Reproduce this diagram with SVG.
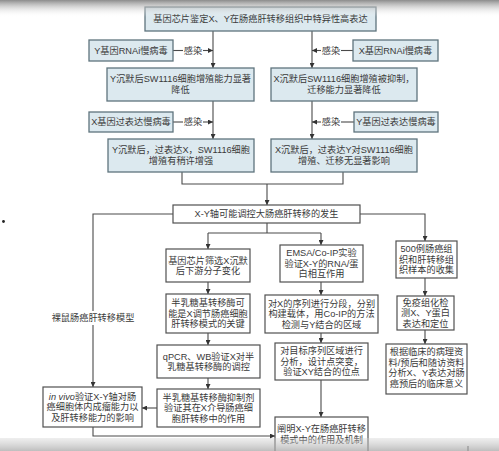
<svg xmlns="http://www.w3.org/2000/svg" width="499" height="451" viewBox="0 0 499 451">
<defs>
<style>
text{font-family:"Liberation Sans","Noto Sans CJK SC",sans-serif;font-size:9.2px;fill:#3a3a3a;text-anchor:middle}
.tb{fill:#dce9ef;stroke:#5f747d;stroke-width:1.3}
.lb{fill:#ffffff;stroke:#505050;stroke-width:1.2}
.tl{fill:none;stroke:#4a4a4a;stroke-width:1.1}
.ll{fill:none;stroke:#4a4a4a;stroke-width:1.1}
</style>
<marker id="ah" viewBox="0 0 6 6" refX="6" refY="3" markerWidth="5" markerHeight="5" markerUnits="userSpaceOnUse" orient="auto">
<path d="M0,0 L6,3 L0,6 z" fill="#333"/>
</marker>
<linearGradient id="gt" x1="0" y1="0" x2="0" y2="1">
<stop offset="0" stop-color="#8c8c8c" stop-opacity="1"/>
<stop offset="1" stop-color="#ffffff" stop-opacity="0"/>
</linearGradient>
<linearGradient id="gb" x1="0" y1="0" x2="0" y2="1">
<stop offset="0" stop-color="#cfcfcf" stop-opacity="0.35"/>
<stop offset="1" stop-color="#a8a8a8" stop-opacity="0.75"/>
</linearGradient>
</defs>
<rect x="0" y="0" width="499" height="451" fill="#ffffff"/>

<g id="connectors">
<path class="tl" d="M213,31 V68" marker-end="url(#ah)"/>
<path class="tl" d="M173,50.5 H183"/>
<path class="tl" d="M203,50.5 H213" marker-end="url(#ah)"/>
<path class="tl" d="M312,31 V68" marker-end="url(#ah)"/>
<path class="tl" d="M353,50.5 H341"/>
<path class="tl" d="M321,50.5 H312" marker-end="url(#ah)"/>
<path class="tl" d="M213,101 V139" marker-end="url(#ah)"/>
<path class="tl" d="M173,122 H183"/>
<path class="tl" d="M203,122 H213" marker-end="url(#ah)"/>
<path class="tl" d="M312,101 V139" marker-end="url(#ah)"/>
<path class="tl" d="M354,122 H341"/>
<path class="tl" d="M321,122 H312" marker-end="url(#ah)"/>
<path class="ll" d="M182,172 V184 H343 V172"/>
<path class="ll" d="M267,184 V205" marker-end="url(#ah)"/>
<path class="ll" d="M173,214 H93 V387" marker-end="url(#ah)"/>
<path class="ll" d="M360,214 H425 V241" marker-end="url(#ah)"/>
<path class="ll" d="M267,223 V233"/>
<path class="ll" d="M208,233 H321"/>
<path class="ll" d="M208,233 V249" marker-end="url(#ah)"/>
<path class="ll" d="M321,233 V245" marker-end="url(#ah)"/>
<path class="ll" d="M208,282 V294" marker-end="url(#ah)"/>
<path class="ll" d="M208,333 V345" marker-end="url(#ah)"/>
<path class="ll" d="M208,378 V389" marker-end="url(#ah)"/>
<path class="ll" d="M157,408 H142" marker-end="url(#ah)"/>
<path class="ll" d="M93,427 V436 H275" marker-end="url(#ah)"/>
<path class="ll" d="M321,282 V295" marker-end="url(#ah)"/>
<path class="ll" d="M321,333 V343" marker-end="url(#ah)"/>
<path class="ll" d="M321,380 V417" marker-end="url(#ah)"/>
<path class="ll" d="M425,278 V296" marker-end="url(#ah)"/>
<path class="ll" d="M425,330 V344" marker-end="url(#ah)"/>
<path class="ll" d="M468,446 V451"/>
<text x="193" y="53.8">感染</text>
<text x="331" y="53.8">感染</text>
<text x="193" y="125.3">感染</text>
<text x="331" y="125.3">感染</text>
<rect x="52" y="311" width="82" height="14" fill="#ffffff"/>
<text x="93" y="321.3">裸鼠肠癌肝转移模型</text>
</g>

<g id="n_top"><rect class="tb" x="145" y="7" width="231" height="24"/><text x="260.5" y="22.3">基因芯片鉴定X、Y在肠癌肝转移组织中特异性高表达</text></g>
<g id="n_yrnai"><rect class="tb" x="89" y="40" width="84" height="21"/><text x="131" y="53.8">Y基因RNAi慢病毒</text></g>
<g id="n_xrnai"><rect class="tb" x="353" y="40" width="85" height="21"/><text x="395.5" y="53.8">X基因RNAi慢病毒</text></g>
<g id="n_ysil"><rect class="tb" x="107" y="68" width="147" height="33"/><text x="180.5" y="82.3">Y沉默后SW1116细胞增殖能力显著</text><text x="180.5" y="93.3">降低</text></g>
<g id="n_xsil"><rect class="tb" x="271" y="68" width="146" height="33"/><text x="344" y="82.3">X沉默后SW1116细胞增殖被抑制，</text><text x="344" y="93.3">迁移能力显著降低</text></g>
<g id="n_xover"><rect class="tb" x="89" y="112" width="84" height="20"/><text x="131" y="125.3">X基因过表达慢病毒</text></g>
<g id="n_yover"><rect class="tb" x="354" y="112" width="84" height="20"/><text x="396" y="125.3">Y基因过表达慢病毒</text></g>
<g id="n_ysilx"><rect class="tb" x="108" y="139" width="146" height="33"/><text x="181" y="153.3">Y沉默后，过表达X，SW1116细胞</text><text x="181" y="164.3">增殖有稍许增强</text></g>
<g id="n_xsily"><rect class="tb" x="271" y="139" width="146" height="33"/><text x="344" y="153.3">X沉默后，过表达Y对SW1116细胞</text><text x="344" y="164.3">增殖、迁移无显著影响</text></g>

<g id="n_axis"><rect class="lb" x="173" y="205" width="187" height="18"/><text x="266.5" y="217.3">X-Y轴可能调控大肠癌肝转移的发生</text></g>

<g id="n_a1"><rect class="lb" x="166" y="249" width="84" height="33"/><text x="208" y="263.8">基因芯片筛选X沉默</text><text x="208" y="274.3">后下游分子变化</text></g>
<g id="n_a2"><rect class="lb" x="166" y="294" width="84" height="39"/><text x="208" y="306.3">半乳糖基转移酶可</text><text x="208" y="316.8">能是X调节肠癌细胞</text><text x="208" y="327.3">肝转移模式的关键</text></g>
<g id="n_a3"><rect class="lb" x="157" y="345" width="103" height="33"/><text x="208.5" y="359.8">qPCR、WB验证X对半</text><text x="208.5" y="370.3">乳糖基转移酶的调控</text></g>
<g id="n_a4"><rect class="lb" x="157" y="389" width="103" height="38"/><text x="208.5" y="400.8">半乳糖基转移酶抑制剂</text><text x="208.5" y="411.3">验证其在X介导肠癌细</text><text x="208.5" y="421.8">胞肝转移中的作用</text></g>
<g id="n_invivo"><rect class="lb" x="43" y="387" width="99" height="40"/><text x="92.5" y="399.8"><tspan font-style="italic">in vivo</tspan>验证X-Y轴对肠</text><text x="92.5" y="410.3">癌细胞体内成瘤能力以</text><text x="92.5" y="420.8">及肝转移能力的影响</text></g>

<g id="n_b1"><rect class="lb" x="280" y="245" width="83" height="37"/><text x="321.5" y="256.3">EMSA/Co-IP实验</text><text x="321.5" y="266.8">验证X-Y的RNA/蛋</text><text x="321.5" y="277.3">白相互作用</text></g>
<g id="n_b2"><rect class="lb" x="265" y="295" width="113" height="38"/><text x="321.5" y="306.8">对X的序列进行分段，分别</text><text x="321.5" y="317.3">构建载体，用Co-IP的方法</text><text x="321.5" y="327.8">检测与Y结合的区域</text></g>
<g id="n_b3"><rect class="lb" x="275" y="343" width="93" height="37"/><text x="321.5" y="354.3">对目标序列区域进行</text><text x="321.5" y="364.8">分析，设计点突变，</text><text x="321.5" y="375.3">验证XY结合的位点</text></g>
<g id="n_b4"><rect class="lb" x="275" y="417" width="93" height="40"/><text x="321.5" y="431.8">阐明X-Y在肠癌肝转移</text><text x="321.5" y="442.8">模式中的作用及机制</text></g>

<g id="n_c1"><rect class="lb" x="396" y="241" width="61" height="37"/><text x="426.5" y="252.3">500例肠癌组</text><text x="426.5" y="262.8">织和肝转移组</text><text x="426.5" y="273.3">织样本的收集</text></g>
<g id="n_c2"><rect class="lb" x="397" y="296" width="57" height="34"/><text x="425.5" y="305.8">免疫组化检</text><text x="425.5" y="316.3">测X、Y蛋白</text><text x="425.5" y="326.8">表达和定位</text></g>
<g id="n_c3"><rect class="lb" x="386" y="344" width="81" height="50"/><text x="426.5" y="355.3">根据临床的病理资</text><text x="426.5" y="365.8">料/预后和随访资料</text><text x="426.5" y="376.3">分析X、Y表达对肠</text><text x="426.5" y="386.8">癌预后的临床意义</text></g>

<circle cx="3.5" cy="221.5" r="1.4" fill="#222"/>
<rect x="0" y="0" width="499" height="17" fill="url(#gt)"/>
<rect x="0" y="438" width="499" height="13" fill="url(#gb)"/>
</svg>
